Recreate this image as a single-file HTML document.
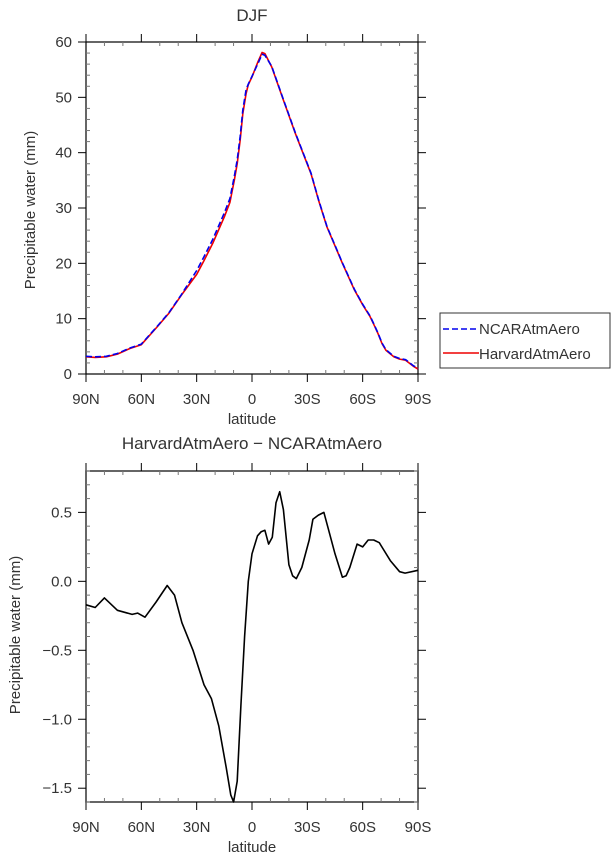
<!DOCTYPE html>
<html><head><meta charset="utf-8"><style>
html,body{margin:0;padding:0;background:#fff;}
svg{display:block;font-family:"Liberation Sans",sans-serif;}
</style></head><body>
<svg id="s" width="615" height="862" xmlns="http://www.w3.org/2000/svg"></svg>
<script>
(function(){
const s=document.getElementById('s');let h='';
const X0=86,X1=418;
function xt(t){return X0+(X1-X0)*t/180;}
function axes(tp,bot,vmin,vmax,major,minor,fmt){
  const yv=v=>bot-(v-vmin)/(vmax-vmin)*(bot-tp);
  h+=`<rect x="${X0}" y="${tp}" width="${X1-X0}" height="${bot-tp}" fill="none" stroke="#000" stroke-width="1.2"/>`;
  for(let t=0;t<=180;t+=10){const x=xt(t);
    if(t%30==0){h+=`<line x1="${x}" y1="${tp}" x2="${x}" y2="${tp-8}" stroke="#000"/><line x1="${x}" y1="${bot}" x2="${x}" y2="${bot+8}" stroke="#000"/>`;}
    else{h+=`<line x1="${x}" y1="${tp}" x2="${x}" y2="${tp+4}" stroke="#777"/><line x1="${x}" y1="${bot}" x2="${x}" y2="${bot-4}" stroke="#777"/>`;}}
  const lab=['90N','60N','30N','0','30S','60S','90S'];
  lab.forEach((l,i)=>{h+=`<text x="${xt(i*30)}" y="${bot+30}" font-size="15" fill="#333" text-anchor="middle">${l}</text>`;});
  h+=`<text x="252" y="${bot+50}" font-size="15" fill="#333" text-anchor="middle">latitude</text>`;
  const n=Math.round((vmax-vmin)/minor);
  for(let i=0;i<=n;i++){const v=vmin+i*minor;const y=yv(v);const isM=Math.abs(Math.round(v/major)*major-v)<1e-6;
    if(isM){h+=`<line x1="${X0-8}" y1="${y}" x2="${X0}" y2="${y}" stroke="#000"/><line x1="${X1}" y1="${y}" x2="${X1+8}" y2="${y}" stroke="#000"/>`;
      h+=`<text x="${X0-14}" y="${y+5}" font-size="15" fill="#333" text-anchor="end">${fmt(v)}</text>`;}
    else{h+=`<line x1="${X0}" y1="${y}" x2="${X0+4}" y2="${y}" stroke="#777"/><line x1="${X1}" y1="${y}" x2="${X1-4}" y2="${y}" stroke="#777"/>`;}}
  return yv;
}
function path(pts,yv,stroke,dash){let d='';pts.forEach((p,i)=>{d+=(i?'L':'M')+xt(p[0]).toFixed(1)+','+yv(p[1]).toFixed(1);});
  h+=`<path d="${d}" fill="none" stroke="${stroke}" stroke-width="1.6" ${dash?'stroke-dasharray="6,3"':''} stroke-linejoin="round"/>`;}
h+=`<text x="252" y="21" font-size="17" fill="#333" text-anchor="middle">DJF</text>`;
const y1=axes(42,374,0,60,10,2,v=>Math.round(v));
const tc=[[0,3.1],[5,3.0],[11,3.1],[17,3.6],[23.8,4.6],[30,5.3],[38.8,8.6],[45,11],[51.6,14.2],[60,18],[64,20.5],[68.7,23.6],[75,28.4],[78,31],[80.4,35],[82,38],[83.6,42.3],[85,47],[86.8,50.7],[88,52.3],[90,53.7],[93.2,56.4],[95.5,58.1],[97,57.9],[100.7,55.5],[107,49.5],[113.5,43.5],[122,36.2],[126,31.5],[130.6,26.6],[139,20],[145.5,15.2],[150,12.5],[154,10.4],[156,9],[158.3,7.3],[160.5,5.5],[162.6,4.3],[166.9,3.1],[170,2.7],[173.3,2.5],[177.5,1.4],[180,0.9]];
path(tc,y1,'#e00',false);
const ncar=tc.map(p=>[p[0],p[1]+(p[0]>55&&p[0]<88?0.7:(p[0]>=93&&p[0]<99?-0.3:0.1))]);
path(ncar,y1,'#00e',true);
h+=`<text transform="translate(35,210) rotate(-90)" font-size="15" fill="#333" text-anchor="middle">Precipitable water (mm)</text>`;
h+=`<rect x="440" y="313" width="170" height="55" fill="#fff" stroke="#333"/>`;
h+=`<line x1="443" y1="329" x2="479" y2="329" stroke="#00e" stroke-width="1.6" stroke-dasharray="6,3"/>`;
h+=`<line x1="443" y1="353" x2="479" y2="353" stroke="#e00" stroke-width="1.6"/>`;
h+=`<text x="479" y="334" font-size="15" fill="#333">NCARAtmAero</text>`;
h+=`<text x="479" y="359" font-size="15" fill="#333">HarvardAtmAero</text>`;
h+=`<text x="252" y="449" font-size="17" fill="#333" text-anchor="middle">HarvardAtmAero − NCARAtmAero</text>`;
const y2=axes(471,802,-1.6,0.8,0.5,0.1,v=>(Math.round(v*10)/10).toFixed(1).replace('-','−'));
const d=[[0,-0.17],[5,-0.19],[10,-0.12],[17,-0.21],[25,-0.24],[28,-0.23],[32,-0.26],[38,-0.15],[44,-0.03],[48,-0.1],[52,-0.3],[58,-0.5],[64,-0.75],[68,-0.85],[72,-1.05],[76,-1.35],[78.5,-1.55],[80,-1.6],[82,-1.45],[84,-0.9],[86,-0.4],[88,0.0],[90,0.2],[93,0.33],[95,0.36],[97,0.37],[99,0.27],[101,0.32],[103,0.57],[105,0.65],[107,0.52],[110,0.12],[112,0.04],[114,0.02],[117,0.1],[121,0.3],[123,0.45],[126,0.48],[129,0.5],[131,0.4],[135,0.2],[139,0.03],[141,0.04],[143,0.1],[147,0.27],[150,0.25],[153,0.3],[156,0.3],[159,0.28],[165,0.15],[170,0.07],[173,0.06],[180,0.08]];
path(d,y2,'#000',false);
h+=`<text transform="translate(20,635) rotate(-90)" font-size="15" fill="#333" text-anchor="middle">Precipitable water (mm)</text>`;
s.innerHTML=h;
})();
</script>
</body></html>
